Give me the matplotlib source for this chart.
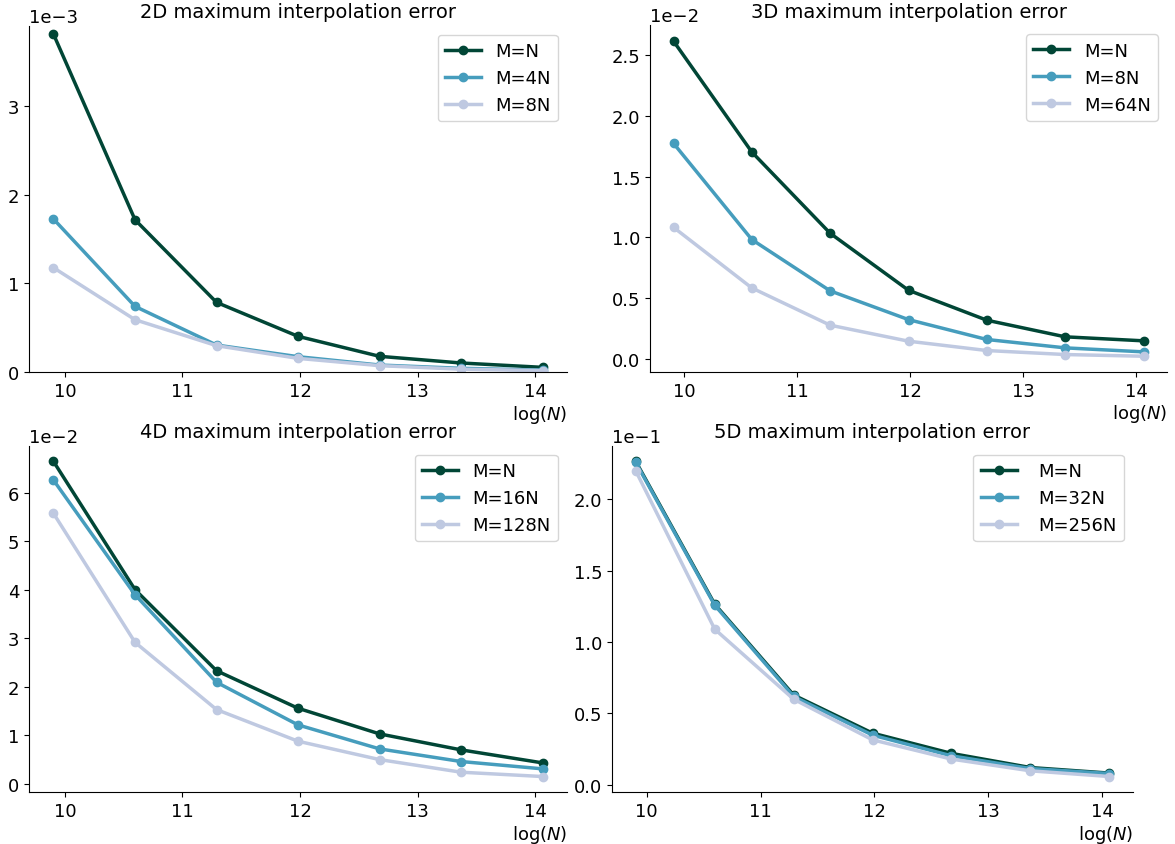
import numpy as np
import matplotlib
matplotlib.use('Agg')
import matplotlib.pyplot as plt

# N values used for the x axis (plotted as natural log)
N_values = [20000, 40000, 80000, 160000, 320000, 640000, 1280000]

colors = ['#014636', '#469dbd', '#bfc9e1']

# 2D maximum interpolation error
err_2d_labels = ['M=N', 'M=4N', 'M=8N']
err_2d_MN = [3.805e-3, 1.717e-3, 0.787e-3, 0.405e-3, 0.180e-3, 0.105e-3, 0.056e-3]
err_2d_M4N = [1.725e-3, 0.742e-3, 0.307e-3, 0.176e-3, 0.082e-3, 0.045e-3, 0.025e-3]
err_2d_M8N = [1.177e-3, 0.592e-3, 0.300e-3, 0.157e-3, 0.075e-3, 0.035e-3, 0.020e-3]
err_2d_yticks = [0, 1e-3, 2e-3, 3e-3]

# 3D maximum interpolation error
err_3d_labels = ['M=N', 'M=8N', 'M=64N']
err_3d_MN = [2.618e-2, 1.703e-2, 1.033e-2, 0.563e-2, 0.316e-2, 0.179e-2, 0.146e-2]
err_3d_M8N = [1.775e-2, 0.981e-2, 0.558e-2, 0.321e-2, 0.157e-2, 0.088e-2, 0.055e-2]
err_3d_M64N = [1.082e-2, 0.582e-2, 0.275e-2, 0.143e-2, 0.066e-2, 0.033e-2, 0.019e-2]

# 4D maximum interpolation error
err_4d_labels = ['M=N', 'M=16N', 'M=128N']
err_4d_MN = [6.64e-2, 4.00e-2, 2.33e-2, 1.557e-2, 1.029e-2, 0.700e-2, 0.432e-2]
err_4d_M16N = [6.255e-2, 3.896e-2, 2.092e-2, 1.214e-2, 0.720e-2, 0.460e-2, 0.309e-2]
err_4d_M128N = [5.57e-2, 2.915e-2, 1.53e-2, 0.878e-2, 0.500e-2, 0.240e-2, 0.151e-2]

# 5D maximum interpolation error
err_5d_labels = ['M=N', 'M=32N', 'M=256N']
err_5d_MN = [2.266e-1, 1.266e-1, 0.629e-1, 0.362e-1, 0.220e-1, 0.121e-1, 0.082e-1]
err_5d_M32N = [2.259e-1, 1.259e-1, 0.619e-1, 0.348e-1, 0.203e-1, 0.114e-1, 0.079e-1]
err_5d_M256N = [2.200e-1, 1.091e-1, 0.600e-1, 0.315e-1, 0.180e-1, 0.098e-1, 0.058e-1]

plt.rcParams['font.size'] = 13


def plot_errors(ax, title, labels, series, textpad=0.8):
    x = np.log(N_values)
    for lab, vals, col in zip(labels, series, colors):
        ax.plot(x, vals, '-o', color=col, label=lab, linewidth=2.5, markersize=6)
    ax.set_title(title, fontsize=14)
    ax.set_xlabel(r'log($N$)', loc='right', labelpad=2)
    ax.ticklabel_format(axis='y', style='sci', scilimits=(0, 0))
    ax.spines['top'].set_visible(False)
    ax.spines['right'].set_visible(False)
    ax.legend(loc='upper right', handletextpad=textpad)


fig = plt.figure(figsize=(11.75, 8.45), dpi=100)
ax1 = fig.add_axes([0.0247, 0.5582, 0.4579, 0.4102])
ax2 = fig.add_axes([0.5532, 0.5586, 0.4400, 0.4102])
ax3 = fig.add_axes([0.0247, 0.0612, 0.4579, 0.4102])
ax4 = fig.add_axes([0.5209, 0.0612, 0.4434, 0.4102])

plot_errors(ax1, '2D maximum interpolation error', err_2d_labels,
            [err_2d_MN, err_2d_M4N, err_2d_M8N])
ax1.set_ylim(0, 3.9e-3)
ax1.set_yticks(err_2d_yticks)
plot_errors(ax2, '3D maximum interpolation error', err_3d_labels,
            [err_3d_MN, err_3d_M8N, err_3d_M64N])
plot_errors(ax3, '4D maximum interpolation error', err_4d_labels,
            [err_4d_MN, err_4d_M16N, err_4d_M128N])
plot_errors(ax4, '5D maximum interpolation error', err_5d_labels,
            [err_5d_MN, err_5d_M32N, err_5d_M256N], textpad=1.2)

fig.savefig('out.png', dpi=100)
